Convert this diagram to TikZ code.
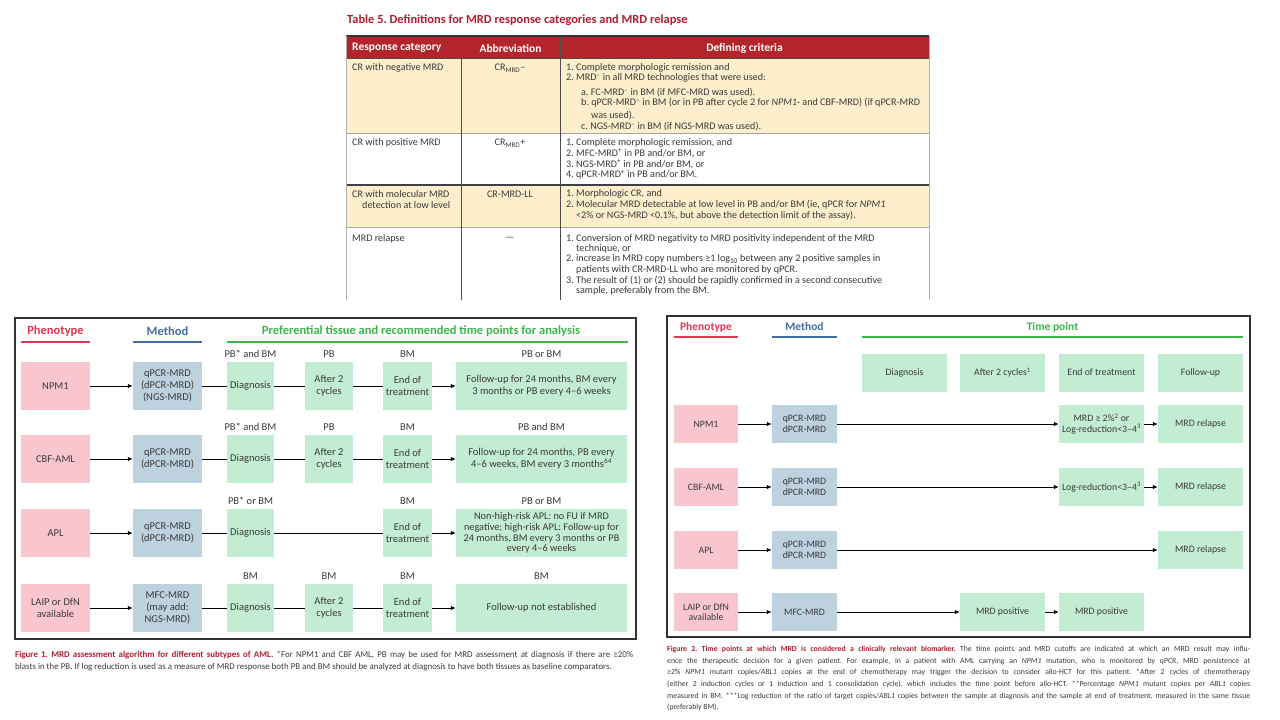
\documentclass[tikz,border=0pt]{standalone}
\usepackage{fontspec}
\setmainfont{Carlito}
\usetikzlibrary{arrows.meta}
\frenchspacing
\definecolor{titleRed}{HTML}{B01E2F}
\definecolor{headRed}{HTML}{B2262B}
\definecolor{beige}{HTML}{FDEFCC}
\definecolor{txt}{HTML}{3A3A3A}
\definecolor{phenoC}{HTML}{F9C6D0}
\definecolor{methC}{HTML}{BDD1DF}
\definecolor{timeC}{HTML}{C3EDD2}
\definecolor{phenoT}{HTML}{E0364F}
\definecolor{methT}{HTML}{3F6E9F}
\definecolor{timeT}{HTML}{3BB54A}
\definecolor{frameC}{HTML}{333333}
\newcommand\fontTab{\fontsize{10.1}{10.5}\selectfont}
\newcommand\fontTitle{\fontsize{12.4}{14}\selectfont\bfseries}
\newcommand\fontTabHead{\fontsize{11.5}{13}\selectfont\bfseries}
\newcommand\fontFigA{\fontsize{10.5}{12}\selectfont}
\newcommand\fontFigB{\fontsize{9.8}{10.5}\selectfont}
\newcommand\fontHeadA{\fontsize{12.5}{14}\selectfont\bfseries}
\newcommand\fontHeadB{\fontsize{11.5}{13}\selectfont\bfseries}
\newcommand\fontCapA{\fontsize{8.9}{11.8}\selectfont}
\newcommand\fontCapB{\fontsize{7.75}{11.6}\selectfont}
\tikzset{
  tcell/.style={anchor=west, inner sep=0pt, font=\fontTab, text=txt},
  thead/.style={inner sep=0pt, font=\fontTabHead, text=white},
  boxA/.style={minimum height=48, inner sep=1pt, align=center, text=txt, font=\fontFigA},
  phenoA/.style={boxA, fill=phenoC, minimum width=69},
  methA/.style={boxA, fill=methC, minimum width=69},
  timeA/.style={boxA, fill=timeC},
  lblA/.style={inner sep=0pt, text=txt, font=\fontFigA},
  boxB/.style={minimum height=38, inner sep=1pt, align=center, text=txt, font=\fontFigB},
  phenoB/.style={boxB, fill=phenoC, minimum width=64},
  methB/.style={boxB, fill=methC, minimum width=65},
  timeB/.style={boxB, fill=timeC, minimum width=85},
  conn/.style={draw=black, line width=1pt},
  arr/.style={conn, -{Latex[length=5pt,width=4.5pt]}},
}
\begin{document}
\begin{tikzpicture}[x=1pt,y=-1pt]
\useasboundingbox (0,0) rectangle (1280,720);
\fill[white] (0,0) rectangle (1280,720);

% ---------------- Table 5 ----------------
\node[anchor=west, inner sep=0pt, font=\fontTitle, text=titleRed] (ttitle) at (347,20)
  {Table 5. Definitions for MRD response categories and MRD relapse};
\fill[headRed] (346,36) rectangle (929,58);
\fill[beige] (346,58) rectangle (929,133);
\fill[beige] (346,185) rectangle (929,227);
\draw[black!80, line width=1.2pt] (346,36) -- (929,36);
\draw[black!70, line width=0.8pt] (346,58) -- (929,58);
\draw[gray!70, line width=0.6pt] (346,133) -- (929,133);
\draw[black!75, line width=1.2pt] (346,185) -- (929,185);
\draw[gray!70, line width=0.6pt] (346,227) -- (929,227);
\draw[black!70, line width=0.8pt] (461,36) -- (461,300) (560,36) -- (560,300);
\draw[gray!60, line width=0.6pt] (346,36) -- (346,300) (929,36) -- (929,300);

\node[thead, anchor=west] (th1) at (352,48) {Response category};
\node[thead] (th2) at (510.5,48) {Abbreviation};
\node[thead] (th3) at (744.5,48) {Defining criteria};

% row 1
\node[tcell] (r1a) at (352,68) {CR with negative MRD};
\node[tcell, anchor=center] (r1b) at (510,68) {CR\textsubscript{MRD}–};
\node[tcell] (r1c1) at (566,68) {1. Complete morphologic remission and};
\node[tcell] (r1c2) at (566,78) {2. MRD\textsuperscript{–} in all MRD technologies that were used:};
\node[tcell] (r1c3) at (581,93) {a. FC-MRD\textsuperscript{–} in BM (if MFC-MRD was used).};
\node[tcell] (r1c4) at (581,103) {b. qPCR-MRD\textsuperscript{–} in BM (or in PB after cycle 2 for \textit{NPM1}- and CBF-MRD) (if qPCR-MRD};
\node[tcell] (r1c5) at (591,116) {was used).};
\node[tcell] (r1c6) at (581,127) {c. NGS-MRD\textsuperscript{–} in BM (if NGS-MRD was used).};
% row 2
\node[tcell] (r2a) at (352,143) {CR with positive MRD};
\node[tcell, anchor=center] (r2b) at (510,143) {CR\textsubscript{MRD}+};
\node[tcell] (r2c1) at (566,143) {1. Complete morphologic remission, and};
\node[tcell] (r2c2) at (566,153) {2. MFC-MRD\textsuperscript{+} in PB and/or BM, or};
\node[tcell] (r2c3) at (566,164) {3. NGS-MRD\textsuperscript{+} in PB and/or BM, or};
\node[tcell] (r2c4) at (566,175) {4. qPCR-MRD\textsuperscript{+} in PB and/or BM.};
% row 3
\node[tcell] (r3a) at (352,194) {CR with molecular MRD};
\node[tcell] (r3a2) at (362,205) {detection at low level};
\node[tcell, anchor=center] (r3b) at (510,194) {CR-MRD-LL};
\node[tcell] (r3c1) at (566,194) {1. Morphologic CR, and};
\node[tcell] (r3c2) at (566,205) {2. Molecular MRD detectable at low level in PB and/or BM (ie, qPCR for \textit{NPM1}};
\node[tcell] (r3c3) at (576,216) {<2\% or NGS-MRD <0.1\%, but above the detection limit of the assay).};
% row 4
\node[tcell] (r4a) at (352,239) {MRD relapse};
\node[tcell, anchor=center] (r4b) at (510,239) {—};
\node[tcell] (r4c1) at (566,239) {1. Conversion of MRD negativity to MRD positivity independent of the MRD};
\node[tcell] (r4c2) at (576,249) {technique, or};
\node[tcell] (r4c3) at (566,259) {2. increase in MRD copy numbers ≥1 log\textsubscript{10} between any 2 positive samples in};
\node[tcell] (r4c4) at (576,270) {patients with CR-MRD-LL who are monitored by qPCR.};
\node[tcell] (r4c5) at (566,281) {3. The result of (1) or (2) should be rapidly confirmed in a second consecutive};
\node[tcell] (r4c6) at (576,291) {sample, preferably from the BM.};

% ---------------- Figure 1 ----------------
\draw[frameC, line width=1.6pt] (15,318) rectangle (636,639);
\node[font=\fontHeadA, text=phenoT, inner sep=0pt] (f1hp) at (55.5,331) {Phenotype};
\node[font=\fontHeadA, text=methT, inner sep=0pt] (f1hm) at (167.5,331) {Method};
\node[font=\fontHeadA, text=timeT, inner sep=0pt] (f1ht) at (421,331) {Preferential tissue and recommended time points for analysis};
\draw[phenoT, line width=1.2pt] (21,342) -- (90,342);
\draw[methT, line width=1.2pt] (133,342) -- (202,342);
\draw[timeT, line width=1.2pt] (227,342) -- (628,342);

% row NPM1
\node[phenoA] (f1p1) at (55.5,386) {NPM1};
\node[methA] (f1m1) at (167.5,386) {qPCR-MRD\\(dPCR-MRD)\\(NGS-MRD)};
\node[timeA, minimum width=47] (f1d1) at (250.5,386) {Diagnosis};
\node[timeA, minimum width=48] (f1a1) at (329,386) {After 2\\cycles};
\node[timeA, minimum width=49] (f1e1) at (407.5,386) {End of\\treatment};
\node[timeA, minimum width=171] (f1f1) at (541.5,386) {Follow-up for 24 months, BM every\\3 months or PB every 4–6 weeks};
\node[lblA] (f1l1d) at (250.5,354) {PB* and BM};
\node[lblA] (f1l1a) at (329,354) {PB};
\node[lblA] (f1l1e) at (407.5,354) {BM};
\node[lblA] (f1l1f) at (541.5,354) {PB or BM};
\draw[arr] (f1p1) -- (f1m1);
\draw[conn] (f1m1) -- (f1d1);
\draw[conn] (f1d1) -- (f1a1);
\draw[conn] (f1a1) -- (f1e1);
\draw[arr] (f1e1) -- (f1f1);

% row CBF-AML
\node[phenoA] (f1p2) at (55.5,459) {CBF-AML};
\node[methA] (f1m2) at (167.5,459) {qPCR-MRD\\(dPCR-MRD)};
\node[timeA, minimum width=47] (f1d2) at (250.5,459) {Diagnosis};
\node[timeA, minimum width=48] (f1a2) at (329,459) {After 2\\cycles};
\node[timeA, minimum width=49] (f1e2) at (407.5,459) {End of\\treatment};
\node[timeA, minimum width=171] (f1f2) at (541.5,459) {Follow-up for 24 months, PB every\\4–6 weeks, BM every 3 months\textsuperscript{64}};
\node[lblA] (f1l2d) at (250.5,427) {PB* and BM};
\node[lblA] (f1l2a) at (329,427) {PB};
\node[lblA] (f1l2e) at (407.5,427) {BM};
\node[lblA] (f1l2f) at (541.5,427) {PB and BM};
\draw[arr] (f1p2) -- (f1m2);
\draw[conn] (f1m2) -- (f1d2);
\draw[conn] (f1d2) -- (f1a2);
\draw[conn] (f1a2) -- (f1e2);
\draw[arr] (f1e2) -- (f1f2);

% row APL
\node[phenoA] (f1p3) at (55.5,533) {APL};
\node[methA] (f1m3) at (167.5,533) {qPCR-MRD\\(dPCR-MRD)};
\node[timeA, minimum width=47] (f1d3) at (250.5,533) {Diagnosis};
\node[timeA, minimum width=49] (f1e3) at (407.5,533) {End of\\treatment};
\node[timeA, minimum width=171, font=\fontsize{10.3}{10.8}\selectfont] (f1f3) at (541.5,533) {Non-high-risk APL: no FU if MRD\\negative; high-risk APL: Follow-up for\\24 months, BM every 3 months or PB\\every 4–6 weeks};
\node[lblA] (f1l3d) at (250.5,501) {PB* or BM};
\node[lblA] (f1l3e) at (407.5,501) {BM};
\node[lblA] (f1l3f) at (541.5,501) {PB or BM};
\draw[arr] (f1p3) -- (f1m3);
\draw[conn] (f1m3) -- (f1d3);
\draw[conn] (f1d3) -- (f1e3);
\draw[arr] (f1e3) -- (f1f3);

% row LAIP
\node[phenoA] (f1p4) at (55.5,608) {LAIP or DfN\\available};
\node[methA] (f1m4) at (167.5,608) {MFC-MRD\\(may add:\\NGS-MRD)};
\node[timeA, minimum width=47] (f1d4) at (250.5,608) {Diagnosis};
\node[timeA, minimum width=48] (f1a4) at (329,608) {After 2\\cycles};
\node[timeA, minimum width=49] (f1e4) at (407.5,608) {End of\\treatment};
\node[timeA, minimum width=171] (f1f4) at (541.5,608) {Follow-up not established};
\node[lblA] (f1l4d) at (250.5,576) {BM};
\node[lblA] (f1l4a) at (329,576) {BM};
\node[lblA] (f1l4e) at (407.5,576) {BM};
\node[lblA] (f1l4f) at (541.5,576) {BM};
\draw[arr] (f1p4) -- (f1m4);
\draw[conn] (f1m4) -- (f1d4);
\draw[conn] (f1d4) -- (f1a4);
\draw[conn] (f1a4) -- (f1e4);
\draw[arr] (f1e4) -- (f1f4);

\node[anchor=north west, inner sep=0pt, text width=618pt, align=justify, font=\fontCapA, text=txt] (f1cap) at (15,651)
  {{\color{titleRed}\bfseries Figure 1. MRD assessment algorithm for different subtypes of AML.} *For NPM1 and CBF AML, PB may be used for MRD assessment at diagnosis if there are ≥20\%\linebreak blasts in the PB. If log reduction is used as a measure of MRD response both PB and BM should be analyzed at diagnosis to have both tissues as baseline comparators.};

% ---------------- Figure 2 ----------------
\draw[frameC, line width=1.2pt] (667,316) rectangle (1250,637);
\node[font=\fontHeadB, text=phenoT, inner sep=0pt] (f2hp) at (706,327) {Phenotype};
\node[font=\fontHeadB, text=methT, inner sep=0pt] (f2hm) at (804.5,327) {Method};
\node[font=\fontHeadB, text=timeT, inner sep=0pt] (f2ht) at (1052.5,327) {Time point};
\draw[phenoT, line width=1.2pt] (674,337) -- (738,337);
\draw[methT, line width=1.2pt] (772,337) -- (837,337);
\draw[timeT, line width=1.2pt] (862,337) -- (1243,337);

\node[timeB] (f2hd) at (904.5,372.5) {Diagnosis};
\node[timeB] (f2ha) at (1002.5,372.5) {After 2 cycles\textsuperscript{1}};
\node[timeB] (f2he) at (1101.5,372.5) {End of treatment};
\node[timeB] (f2hf) at (1200.5,372.5) {Follow-up};

% NPM1
\node[phenoB] (f2p1) at (706,424) {NPM1};
\node[methB] (f2m1) at (804.5,424) {qPCR-MRD\\dPCR-MRD};
\node[timeB] (f2e1) at (1101.5,424) {MRD ≥ 2\%\textsuperscript{2} or\\Log-reduction<3–4\textsuperscript{3}};
\node[timeB] (f2f1) at (1200.5,424) {MRD relapse};
\draw[arr] (f2p1) -- (f2m1);
\draw[arr] (f2m1) -- (f2e1);
\draw[arr] (f2e1) -- (f2f1);

% CBF-AML
\node[phenoB] (f2p2) at (706,487) {CBF-AML};
\node[methB] (f2m2) at (804.5,487) {qPCR-MRD\\dPCR-MRD};
\node[timeB] (f2e2) at (1101.5,487) {Log-reduction<3–4\textsuperscript{3}};
\node[timeB] (f2f2) at (1200.5,487) {MRD relapse};
\draw[arr] (f2p2) -- (f2m2);
\draw[arr] (f2m2) -- (f2e2);
\draw[arr] (f2e2) -- (f2f2);

% APL
\node[phenoB] (f2p3) at (706,550) {APL};
\node[methB] (f2m3) at (804.5,550) {qPCR-MRD\\dPCR-MRD};
\node[timeB] (f2f3) at (1200.5,550) {MRD relapse};
\draw[arr] (f2p3) -- (f2m3);
\draw[arr] (f2m3) -- (f2f3);

% LAIP
\node[phenoB] (f2p4) at (706,612) {LAIP or DfN\\available};
\node[methB] (f2m4) at (804.5,612) {MFC-MRD};
\node[timeB] (f2a4) at (1002.5,612) {MRD positive};
\node[timeB] (f2e4) at (1101.5,612) {MRD positive};
\draw[arr] (f2p4) -- (f2m4);
\draw[arr] (f2m4) -- (f2a4);
\draw[arr] (f2a4) -- (f2e4);

\node[anchor=north west, inner sep=0pt, text width=583pt, align=justify, font=\fontCapB, text=txt] (f2cap) at (667,646)
  {{\color{titleRed}\bfseries Figure 2. Time points at which MRD is considered a clinically relevant biomarker.} The time points and MRD cutoffs are indicated at which an MRD result may influ-\linebreak ence the therapeutic decision for a given patient. For example, in a patient with AML carrying an \textit{NPM1} mutation, who is monitored by qPCR, MRD persistence at\linebreak ≥2\% \textit{NPM1} mutant copies/\textit{ABL1} copies at the end of chemotherapy may trigger the decision to consider allo-HCT for this patient. *After 2 cycles of chemotherapy\linebreak (either 2 induction cycles or 1 induction and 1 consolidation cycle), which includes the time point before allo-HCT. **Percentage \textit{NPM1} mutant copies per \textit{ABL1} copies\linebreak measured in BM. ***Log reduction of the ratio of target copies/\textit{ABL1} copies between the sample at diagnosis and the sample at end of treatment, measured in the same tissue\linebreak (preferably BM).};
\end{tikzpicture}
\end{document}
